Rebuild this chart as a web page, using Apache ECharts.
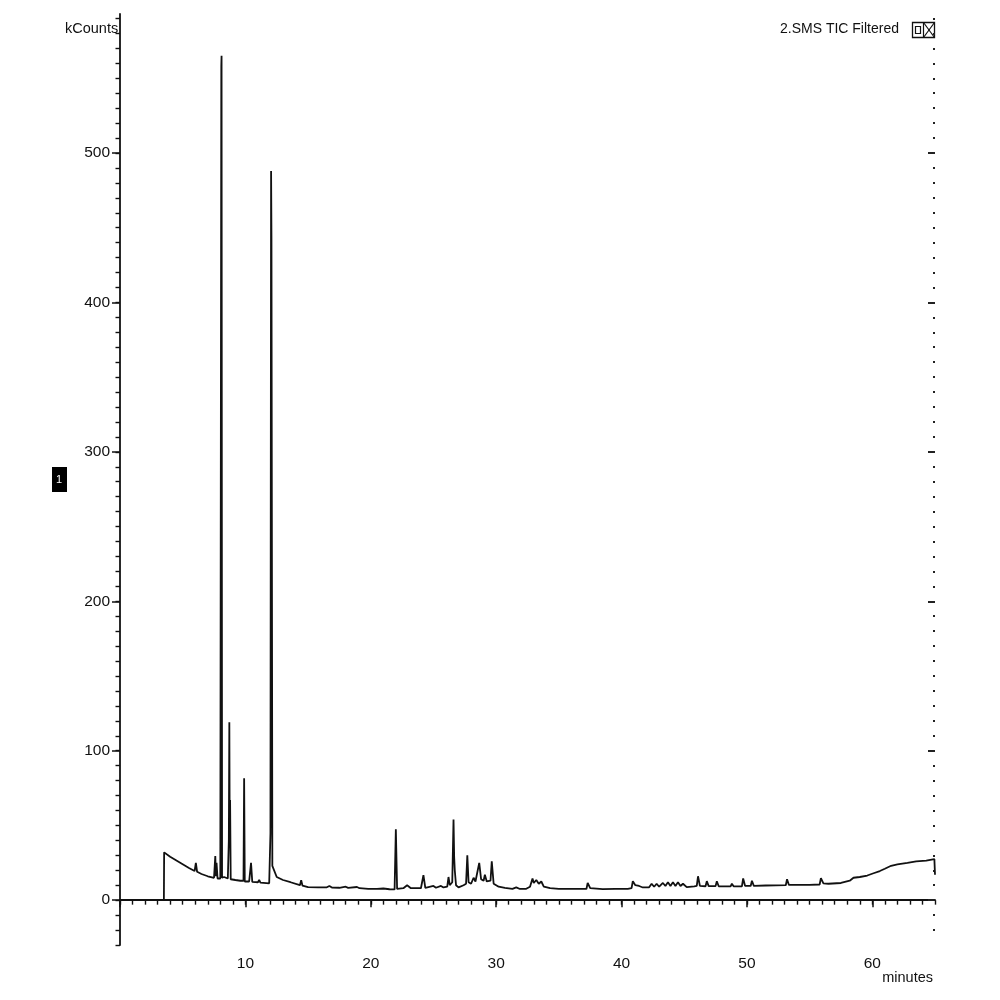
<!DOCTYPE html>
<html>
<head>
<meta charset="utf-8">
<script src="https://cdn.jsdelivr.net/npm/echarts@6/dist/echarts.min.js"></script>
<style>
html,body{margin:0;padding:0;background:#fff;}
#chart{width:1000px;height:1000px;}
</style>
</head>
<body>
<div id="chart"></div>
<script>
// ---- data ----
const retentionTime = [
  0,3.5,3.52,4,4.5,5,5.5,5.95,6.05,6.15,6.5,7,7.5,7.55,7.6,7.65,7.7,7.78,8.0,
  8.04,8.08,8.1,8.14,8.3,8.6,8.68,8.72,8.75,8.78,8.83,9.2,9.6,9.85,9.9,9.95,10.3,10.45,10.55,
  11,11.1,11.2,11.9,12.0,12.05,12.08,12.15,12.5,13,13.6,14.35,14.45,14.55,15,15.8,16.5,16.7,16.9,
  17.5,18,18.2,18.9,19.1,19.8,20.5,21,21.5,21.9,22.0,22.1,22.6,22.9,23.2,24.0,24.2,24.35,
  25,25.2,25.6,25.8,26.1,26.2,26.3,26.5,26.6,26.65,26.7,26.8,27,27.4,27.6,27.7,27.8,28,28.2,
  28.35,28.5,28.65,28.8,29.0,29.1,29.25,29.55,29.65,29.8,30.2,30.7,31.3,31.6,31.9,32.4,32.7,
  32.9,33.0,33.2,33.4,33.6,33.8,34.3,35,36,37.2,37.3,37.5,38.5,39.5,40.5,40.8,40.9,41.1,41.4,
  41.7,42.2,42.4,42.6,42.8,43.0,43.3,43.5,43.7,43.9,44.1,44.3,44.5,44.7,44.9,45.2,45.8,46.0,
  46.1,46.25,46.7,46.8,46.95,47.5,47.6,47.75,48.7,48.8,48.95,49.6,49.7,49.85,50.3,50.4,50.55,
  51.5,53.1,53.2,53.35,55,55.8,55.9,56.1,56.5,57.5,58.2,58.5,59,59.6,60.1,60.6,61,61.5,62,
  62.8,63.5,64.3,64.95,65
];
const kCounts = [
  0,0,32,29,26.5,24,21.5,19.5,25,19,17.5,16,15,15,29.5,16,25,14.5,14.5,
  15,558,565,15,15.5,14.5,40,119,40,67,14,13.5,13,13,81.5,12.5,12.5,25,12.2,
  12,13.5,11.8,11.3,45,488,442,23,15.5,13.5,12,10,13.4,9.8,8.7,8.5,8.6,9.5,8.4,
  8.3,9,8.2,8.8,8,7.6,7.5,7.8,7.3,7.2,47.5,7.5,8,10,8,8,16.7,8.2,
  9.5,8.3,9.5,8.5,9,15.5,10,12,54,29,20,10,8.6,10,11,30,12,11,15,
  12.5,13,25,14,13,17,12.5,13,26,11,9,8.2,7.6,8.6,7.5,7.6,9,
  14.5,11.5,13.5,11,12.5,9,8,7.6,7.5,7.5,11.5,8,7.4,7.5,7.5,8,12.7,10,9.5,
  8.5,8.6,11,9,11,9,11.5,9.5,12,9.5,12,9.5,12,9.5,11,8.7,9.2,9.5,
  16,9.6,9.3,12.7,9.4,9.4,12.7,9.3,9.2,11,9.2,9.3,14.5,9.6,9.5,13,9.6,
  9.8,10,14,10.2,10.2,10.5,14.7,11.3,11,11.5,13,15,15.5,16.5,18,19.5,21,23,24,
  25,26,26.5,27.5,17
];
const xMajorTicks = [0,10,20,30,40,50,60];
const xTickLabels = [10,20,30,40,50,60];
const yTickLabels = [0,100,200,300,400,500];

// ---- helpers ----
const xMinorTicks = [];
for (let m = 0; m <= 65; m++) xMinorTicks.push(m);
const yMinorTicks = [];
for (let v = -30; v <= 590; v += 10) yMinorTicks.push(v);
const yRightDots = yMinorTicks.filter(v => v % 100 !== 0 && v > -30);

const traceData = retentionTime.map((t, i) => [t, kCounts[i]]);

const FONT = "'Liberation Sans', Arial, sans-serif";
const INK = '#111';

const chart = echarts.init(document.getElementById('chart'), null, {renderer: 'canvas'});

const Y_MIN = -30, Y_MAX = 593;

chart.setOption({
  animation: false,
  backgroundColor: '#fff',
  grid: {left: 120, right: 65, top: 14, bottom: 55, containLabel: false},
  xAxis: [
    {
      type: 'value', min: 0, max: 65, position: 'bottom',
      axisLine: {show: true, lineStyle: {color: INK, width: 1.8}},
      axisTick: {show: true, customValues: xMajorTicks, length: 7, lineStyle: {color: INK, width: 1.5}},
      axisLabel: {show: true, customValues: xTickLabels, color: INK, fontSize: 15.5, fontFamily: FONT, margin: 11},
      splitLine: {show: false}
    },
    {
      type: 'value', min: 0, max: 65, position: 'bottom',
      axisLine: {show: false},
      axisTick: {show: true, customValues: xMinorTicks, length: 4.5, lineStyle: {color: INK, width: 1.4}},
      axisLabel: {show: false},
      splitLine: {show: false}
    }
  ],
  yAxis: [
    {
      type: 'value', min: Y_MIN, max: Y_MAX, position: 'left',
      axisLine: {show: true, lineStyle: {color: INK, width: 1.8}},
      axisTick: {show: true, customValues: yTickLabels, length: 8, lineStyle: {color: INK, width: 1.5}},
      axisLabel: {show: true, customValues: yTickLabels, color: INK, fontSize: 15.5, fontFamily: FONT, margin: 10},
      splitLine: {show: false}
    },
    {
      type: 'value', min: Y_MIN, max: Y_MAX, position: 'left',
      axisLine: {show: false},
      axisTick: {show: true, customValues: yMinorTicks, length: 4.5, lineStyle: {color: INK, width: 1.4}},
      axisLabel: {show: false},
      splitLine: {show: false}
    },
    {
      type: 'value', min: Y_MIN, max: Y_MAX, position: 'right',
      axisLine: {show: false},
      axisTick: {show: true, inside: true, customValues: yRightDots, length: 2, lineStyle: {color: '#222', width: 2}},
      axisLabel: {show: false},
      splitLine: {show: false}
    },
    {
      type: 'value', min: Y_MIN, max: Y_MAX, position: 'right',
      axisLine: {show: false},
      axisTick: {show: true, inside: true, customValues: yTickLabels, length: 7, lineStyle: {color: '#222', width: 2}},
      axisLabel: {show: false},
      splitLine: {show: false}
    }
  ],
  series: [
    {
      name: '2.SMS TIC Filtered',
      type: 'line',
      xAxisIndex: 0, yAxisIndex: 0,
      data: traceData,
      showSymbol: false, symbol: 'none',
      lineStyle: {color: INK, width: 1.8},
      clip: true
    }
  ],
  graphic: [
    {type: 'text', left: 65, top: 21, style: {text: 'kCounts', font: "14.5px " + FONT, fill: INK}},
    {type: 'text', right: 67, top: 970, style: {text: 'minutes', font: "14.5px " + FONT, fill: INK}},
    {type: 'text', right: 101, top: 22, style: {text: '2.SMS TIC Filtered', font: "14px " + FONT, fill: INK}},
    // legend icon
    {type: 'rect', shape: {x: 912.5, y: 22.5, width: 22, height: 15}, style: {fill: 'none', stroke: INK, lineWidth: 1.3}},
    {type: 'line', shape: {x1: 923.5, y1: 22.5, x2: 923.5, y2: 37.5}, style: {stroke: INK, lineWidth: 1.2}},
    {type: 'rect', shape: {x: 915.5, y: 26.5, width: 5, height: 7}, style: {fill: 'none', stroke: INK, lineWidth: 1.2}},
    {type: 'line', shape: {x1: 923.5, y1: 22.5, x2: 934.5, y2: 37.5}, style: {stroke: INK, lineWidth: 1.2}},
    {type: 'line', shape: {x1: 934.5, y1: 22.5, x2: 923.5, y2: 37.5}, style: {stroke: INK, lineWidth: 1.2}},
    // trace marker
    {type: 'rect', shape: {x: 52, y: 467, width: 15, height: 25}, style: {fill: '#000'}},
    {type: 'text', left: 56, top: 474, style: {text: '1', font: "11px " + FONT, fill: '#fff'}}
  ]
});
</script>
</body>
</html>
